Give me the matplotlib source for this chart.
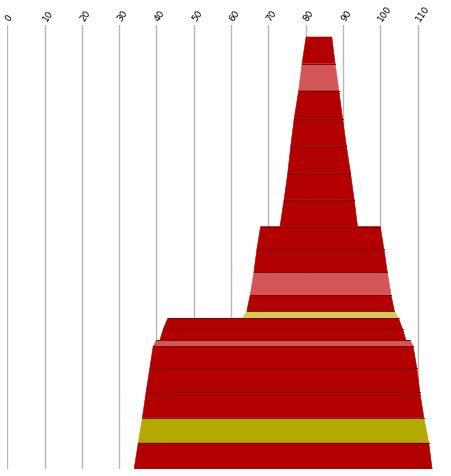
import matplotlib
matplotlib.use("Agg")
import matplotlib.pyplot as plt

# band heights (top to bottom) and x extent at top/bottom edge of each band
heights = [27, 27, 28, 27, 27, 27, 27, 23, 23, 23, 16, 7, 11, 11, 6, 22, 24, 26, 25, 26]
left_top = [80.1, 79.0, 78.1, 76.9, 76.0, 75.2, 74.2, 67.9, 66.9, 66.1,
            65.1, 64.2, 43.0, 41.8, 40.0, 39.1, 38.2, 37.2, 36.2, 35.1]
right_top = [87.0, 87.9, 88.9, 89.9, 90.9, 92.0, 93.0, 100.0, 101.0, 101.9,
             102.9, 103.8, 104.9, 106.0, 108.0, 108.8, 109.8, 110.6, 111.7, 113.0]
left_bot = [79.0, 78.1, 76.9, 76.0, 75.2, 74.2, 73.1, 66.9, 66.1, 65.1,
            64.2, 63.0, 41.8, 40.9, 39.1, 38.2, 37.2, 36.2, 35.1, 34.0]
right_bot = [87.9, 88.9, 89.9, 90.9, 92.0, 93.0, 93.9, 101.0, 101.9, 102.9,
             103.8, 104.9, 106.0, 106.9, 108.8, 109.8, 110.6, 111.7, 113.0, 113.9]
kinds = ["r", "p", "r", "r", "r", "r", "r", "r", "r", "p",
         "r", "y", "r", "r", "p", "r", "r", "r", "o", "r"]
ticks = list(range(0, 120, 10))

colors = {"r": "#b20000", "p": "#d35555", "y": "#d4cc52", "o": "#b3aa00"}

fig = plt.figure(figsize=(4.52, 4.77), dpi=100)
ax = fig.add_axes([7.3 / 452, 7 / 477, 444 / 452, 444 / 477])

y = 0
for i, h in enumerate(heights):
    xs = [left_top[i], right_top[i], right_bot[i], left_bot[i]]
    ys = [y, y, y + h, y + h]
    c = colors[kinds[i]]
    ax.fill(xs, ys, facecolor=c, edgecolor=c, linewidth=0.4, zorder=3)
    # thin dark line on the band's top edge
    if i > 0:
        ax.plot([left_top[i], right_top[i]], [y, y], color="#700000",
                linewidth=0.6, zorder=4)
    y += h
ax.plot([left_bot[-1], right_bot[-1]], [y, y], color="#999999",
        linewidth=0.8, zorder=4)

ax.set_xlim(0, 444 / 3.73)
ax.set_ylim(y, -12)
ax.set_xticks(ticks)
ax.set_xticklabels([str(t) for t in ticks], rotation=55, ha="left",
                   va="center", rotation_mode="anchor", fontsize=6.5)
ax.xaxis.tick_top()
ax.tick_params(axis="x", length=0, pad=4)
ax.set_yticks([])
ax.grid(True, axis="x", color="#b8b8b8", linewidth=1, zorder=0)
ax.set_axisbelow(True)
for s in ax.spines.values():
    s.set_visible(False)

fig.savefig("out.png", dpi=100)
